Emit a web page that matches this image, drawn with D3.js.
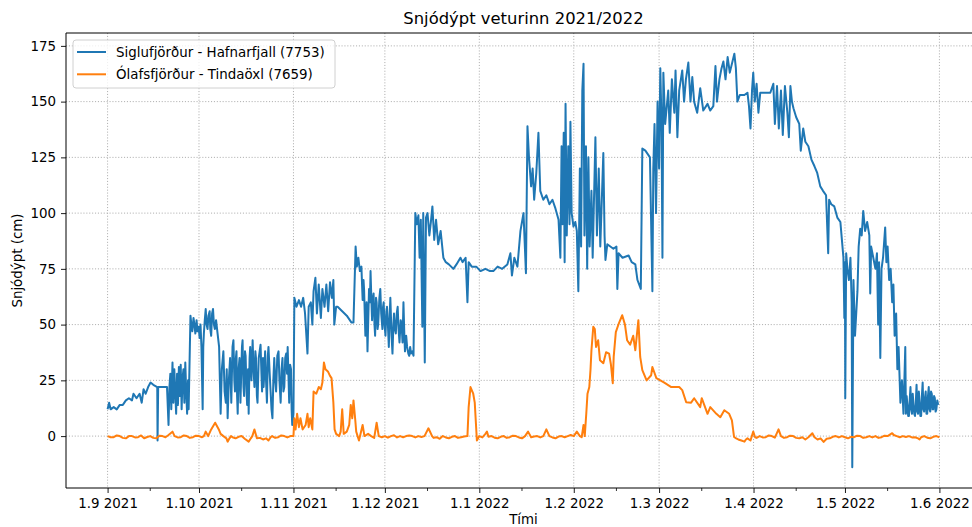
<!DOCTYPE html>
<html>
<head>
<meta charset="utf-8">
<script src="https://cdn.jsdelivr.net/npm/d3@7"></script>
<style>
body { margin: 0; background: #fff; }
text { font-family: "DejaVu Sans", sans-serif; fill: #000; }
</style>
</head>
<body>
<svg id="chart" width="972" height="527"></svg>
<script>
// data: [days since 1 Sep 2021, snow depth in cm]
let seasonStart = new Date(Date.UTC(2021, 8, 1));
let seasonEnd = new Date(Date.UTC(2022, 5, 1));
let chartTitle = "Snjódýpt veturinn 2021/2022";
let xLabel = "Tími";
let yLabel = "Snjódýpt (cm)";
let seriesNames = ["Siglufjörður - Hafnarfjall (7753)", "Ólafsfjörður - Tindaöxl (7659)"];
let yTicks = [0, 25, 50, 75, 100, 125, 150, 175];

let siglufjordur = [
  [0,12],[0.5,15],[1,12],[2,13],[3,12],[4,14],[5,14],[6,16],[7,17],[8,16],[8.5,19],[9.5,17],[10.5,19],
  [11.2,15],[11.8,21],[12.5,19],[13.3,22],[14.1,24],[15,23],[16.3,22],[16.4,-2],[16.6,22],[18,22],[19.5,22],
  [20,5],[20.3,22],[20.6,28],[20.9,12],[21.3,33],[21.6,15],[21.9,30],[22.2,20],[22.5,10],[22.8,28],[23.1,14],
  [23.4,31],[23.7,18],[24,32],[24.3,12],[24.6,26],[24.9,30],[25.2,15],[25.5,33],[25.8,20],[26.1,10],[26.4,25],
  [26.6,12],[27.2,54],[27.5,50],[27.8,47],[28.2,53],[28.5,50],[28.8,46],[29.2,52],[29.5,47],[29.9,49],
  [30.2,44],[30.5,50],[30.8,40],[31.2,12],[31.4,40],[31.6,46],[31.9,52],[32.2,57],[32.5,50],[32.8,48],
  [33.1,54],[33.5,56],[33.7,48],[34,45],[34.3,55],[34.6,57],[34.9,50],[35.2,48],[35.6,52],[36.1,46],
  [36.6,40],[37.1,10],[37.5,30],[38,38],[38.4,20],[38.8,15],[39.1,30],[39.4,8],[39.8,25],[40.2,35],[40.6,15],
  [41,40],[41.3,43],[41.6,25],[41.8,20],[42.1,35],[42.3,38],[42.5,18],[42.7,10],[43,30],[43.3,35],[43.6,15],
  [43.8,25],[44.1,40],[44.3,43],[44.6,22],[44.8,18],[45.1,38],[45.3,36],[45.6,20],[45.8,14],[46.1,30],
  [46.3,10],[46.6,35],[46.8,40],[47.2,25],[47.6,43],[47.9,30],[48.2,22],[48.5,38],[48.7,35],[49,18],
  [49.2,15],[49.6,35],[50.2,41],[50.5,28],[50.7,20],[51,35],[51.2,22],[51.5,30],[51.7,38],[52,25],[52.3,15],
  [52.6,36],[52.8,40],[53.2,28],[53.5,20],[53.8,12],[54.1,8],[54.4,25],[54.7,35],[55,25],[55.3,20],
  [55.7,36],[56.1,38],[56.4,25],[56.8,15],[57.1,30],[57.4,35],[57.7,20],[58,22],[58.3,35],[58.6,37],
  [58.9,28],[59.1,40],[59.4,25],[59.6,15],[59.9,32],[60.2,30],[60.4,12],[60.6,5],[61,10],[61.3,62],[62,58],
  [62.8,61],[63.5,58],[64.2,62],[64.8,55],[65.6,37],[66,58],[66.7,60],[67.2,50],[67.6,65],[68.2,71],
  [68.7,55],[69.3,68],[70,53],[70.5,66],[71.2,58],[71.8,68],[72.4,56],[73,69],[73.6,62],[74.1,70],[74.4,50],
  [75,58],[75.5,58],[77,56],[78.5,54],[80,51],[80.7,51],[81.4,85],[81.8,76],[82.3,80],[82.8,74],[83.3,76],
  [83.7,61],[84,70],[84.2,65],[84.4,55],[84.6,45],[85,60],[85.3,38],[85.6,55],[85.8,66],[86.1,60],[86.3,74],
  [86.6,60],[86.8,52],[87.1,62],[87.3,64],[87.6,50],[87.8,45],[88.1,62],[88.3,60],[88.6,48],[88.8,50],
  [89.2,62],[89.5,66],[89.8,55],[90.2,48],[90.4,58],[90.6,60],[90.9,50],[91.2,45],[91.5,56],[91.7,58],
  [92,50],[92.3,40],[92.6,55],[92.8,62],[93.2,45],[93.5,37],[93.8,50],[94,55],[94.3,48],[94.6,46],[94.9,55],
  [95.2,58],[95.5,48],[95.8,42],[96.2,52],[96.5,50],[96.8,42],[97.1,60],[97.4,45],[97.6,38],[98,45],
  [98.3,40],[98.7,37],[99,36],[99.3,40],[99.6,37],[100,38],[100.4,36],
  [101,100],[101.5,95],[102,99],[102.4,80],[102.8,97],[103.3,49],[103.6,100],[104.1,33],[104.5,98],[105,100],
  [105.6,90],[106.1,96],[106.6,103],[107.2,88],[107.8,97],[108.5,86],[109.3,92],[110.2,80],[111,78],[112,77],
  [113.5,75],[114.5,77],[115.8,80],[116.5,78],[117.5,80],[118.1,60],[118.5,78],[119.5,76],[121,76],
  [122.4,74],[124,75],[125.5,74],[126.6,74],[128,76],[129.5,75],[131.2,77],
  [132.2,82],[132.7,72],[133.5,80],[134.5,76],[135.5,92],[136.5,100],[137.3,73],[137.8,139],[138.3,125],
  [139,112],[139.5,120],[140,106],[140.7,118],[141.4,136],[142,110],[143,106],[144,108],[145,104],[146,106],
  [147,102],[148,97],[148.6,80],[149,130],[149.3,95],[149.7,136],[150,78],[150.3,149],[150.7,90],[151.2,130],
  [151.6,95],[151.9,141],[152.3,100],[152.9,94],[153.5,96],[154,92],[154.5,65],[155,120],[155.4,85],
  [155.8,155],[156.2,167],[156.5,90],[157,130],[157.4,75],[157.8,125],[158.2,85],[158.8,110],[159.2,80],
  [160.1,134],[160.6,90],[161.2,120],[161.7,85],[162.7,127],[163.1,90],[163.4,79],[164,86],[165,85],
  [166,84],[167,85],[167.3,66],[167.7,82],[169,80],[171,81],[172,78],[173.2,77],[173.9,70],[175,66],
  [175.5,129],[176.5,128],[177.5,126],[178,125],[178.8,65],[179.1,120],[179.5,140],[180,100],[180.5,150],
  [181,120],[181.4,165],[181.8,140],[182.1,80],[182.4,163],[183,140],[184,155],[184.5,136],[185.2,160],
  [186,145],[186.4,164],[187,134],[187.6,155],[188.6,164],[189.2,150],[189.8,160],[190.6,167.5],[191.3,150],
  [191.9,161],[192.5,150],[193.5,145],[194.5,156],[195.5,146],[196.9,149],[197.8,146],[198.8,148],
  [199.5,166],[200,150],[200.8,160],[201.5,165],[202.1,168],[202.8,160],[203.5,170],[204.2,163],
  [205.7,171.5],[206.2,165],[206.7,150],[207.5,153],[209,153],[210,154],[210.5,148],[211,138],[211.5,155],
  [211.9,163],[212.4,150],[213,158],[213.6,145],[214.2,154],[216,154],[217.5,154],[218.5,158],[219,140],
  [219.7,157],[220.3,138],[221,155],[221.6,135],[222.3,157],[223.1,145],[223.6,134],[224.1,157],[224.6,150],
  [225.1,147],[226,143],[227,140],[227.5,128],[228.3,138],[229,132],[230,130],[231,124],[232,121],
  [232.9,118],[233.9,112],[234.8,110],[235.8,108],[236.5,82],[236.8,106],[237.5,104],[238.5,103],
  [239.5,98],[240.5,96],[241,88],[241.5,80],[241.8,53],[242,78],[242.1,17],[242.4,82],[242.8,75],
  [243.3,70],[243.8,80],[244.2,60],[244.4,-14],[244.8,70],[245.3,45],[246.1,65],[246.5,85],[247,93],
  [247.5,90],[248,101],[248.6,92],[249.3,96],[250,90],[250.3,64],[250.6,85],[251.3,80],[252,75],
  [252.5,82],[252.9,50],[253.2,78],[253.6,35],[254,75],[254.5,80],[255.2,93.6],[255.6,78],[256,85],
  [256.5,70],[257,75],[257.5,60],[257.9,68],[258.3,45],[258.8,55],[259.2,30],[259.6,40],[260.2,15],
  [260.7,25],[261.2,10],[261.8,40],[262,10],[262.25,18],[262.5,14],[262.75,9],[263,9],[263.25,16],
  [263.5,22],[263.75,12],[264,10],[264.25,19],[264.5,14],[264.75,10],[265,9],[265.25,15],[265.5,23],
  [265.75,11],[266,10],[266.25,20],[266.5,15],[266.75,9],[267,9],[267.25,18],[267.5,24],[267.75,12],
  [268,11],[268.25,17],[268.5,20],[268.75,10],[269,10],[269.25,18],[269.5,22],[269.75,12],[270,11],
  [270.25,20],[270.5,19],[270.75,12],[271,12],[271.25,18],[271.5,17],[271.75,11],[272,12],[272.3,16],
  [272.6,14]
];

let olafsfjordur = [
  [0,0],[1,-0.5],[2,-0.5],[3,0.3],[4,0],[5,-0.8],[6,-1],[7,0],[8,0],[9,-0.6],[10,-0.5],[11,0.3],[12,-1],
  [13,-0.4],[14,0],[15,-0.8],[16,-1],[17,0.2],[18,0],[19,-0.5],[20,0.5],[21.3,2],[22,0],[23,-0.6],[24,-0.5],
  [25,0.3],[26,0],[27,-0.8],[28,-0.5],[29,0.2],[30,0],[31,-0.5],[31.6,0],[32.2,2],[33,0],[34,3],[35.3,6],
  [36.5,3],[37.1,1],[38,0],[39,-1],[39.4,-2.5],[40,-1],[40.5,0],[41,-0.5],[42,-1],[43,-0.3],[44,0],
  [45,-1.2],[46.3,-2.5],[47,-1],[47.5,0],[48.2,3],[49,-1],[50,-0.8],[51,-1.5],[52,-1],[52.8,-2],[53.5,-0.5],
  [54,0],[55,-0.8],[56,-0.5],[57,0.3],[58,0],[59,-0.6],[60,0],[61,0],
  [61.3,8],[61.7,3],[62.2,10],[62.8,4],[63.3,8],[64,3],[65,5],[65.6,10],
  [66,4],[66.5,8],[67.2,3],[67.6,20],[68.5,19],[69.3,22],[70,21],[70.5,24],[71,33],[71.5,30],[72.3,29],
  [73,27],[73.5,26],[74.1,15],[74.5,3],[75,1],[76,0],[76.5,2],[77,12],[77.5,1],[78.5,2],[79.3,5],
  [79.8,14],[80.3,8],[80.7,16],[81.3,7],[81.6,2],[82.5,-2],[83.7,5],[84.3,0],[85.5,1],[86.5,0],[87.5,-0.8],
  [88.3,6],[89,0],[90,-0.5],[91,0],[92,-0.7],[93,0],[94,0.4],[95,-0.6],[96,0],[97,-0.5],[98,0],[99,0.3],
  [100,0],[101,-0.6],[102,0],[103,-0.4],[104,0],[105.3,3.5],[106.5,0],[107,-0.8],[108,-0.5],[109,-1.2],
  [110,0],[111,-0.6],[112,-1],[113,-0.3],[114,0],[115,-0.8],[116,-0.5],[117,-0.2],[118.1,0],
  [118.5,13],[119.1,22],[120,19],[120.5,15],[121.2,-2],[122,0],[123,-0.6],[124,1],[124.5,2],[125,-0.3],
  [126,0],[127,-0.7],[128,-1],[129,-0.3],[130,0],[131,-0.8],[132,-0.5],[133,0.2],[134,0],[135,-0.6],
  [136,-1],[137,0],[138,2],[139,-0.5],[140,-0.2],[141,0],[142,-0.6],[143,0],[144,3],[145,0],[146,-0.6],
  [147,-1],[148,-0.2],[149,0],[150,-0.5],[151,0],[152,0.5],[153,0],[154,2],[155,0],[155.6,-0.5],[156.2,5],
  [156.6,0],[157.1,10],[157.5,19],[158.1,22],[158.5,30],[158.8,38.5],[159.4,49],[159.9,48],[160.3,40],[161,43],
  [161.6,34],[162.7,32.7],[163.6,37.6],[164.6,37],[165.2,32],[165.8,23.7],[166.1,35.5],[166.8,46.6],
  [167.8,50.6],[168.9,54.2],[169.8,50],[170.5,43],[171.5,41],[172.5,45],[173.2,38.5],[174.2,52],
  [174.8,35.5],[175.5,29.6],[176.9,25],[178.4,27.3],[178.8,31],[180.1,26],[182.7,24],[185,22],[187.6,22],
  [188.6,20.6],[189.9,15.2],[191.5,15],[192.5,17],[194.5,13],[195,17],[196.9,10],[197.8,13],[199.8,10],
  [201.1,8.5],[202.4,11.6],[204,10],[204.9,7],[205.6,-0.4],[206.3,-1],[207,-1.5],[208,-2],[209,-2.5],
  [209.5,-1.5],[210,-1],[211,-2],[211.9,2],[212.5,-0.5],[213,-0.8],[214,0],[215,-0.6],[216,-0.5],[217,0.3],
  [218,0],[219,-0.7],[220.2,3],[221,0],[222,-0.8],[223,-0.5],[224,0.2],[225,0],[226,-0.8],[227,-1],
  [228,-0.5],[229,-1.5],[230,-0.5],[231.3,1.3],[232,-0.5],[233,-1.5],[234,-1],[235,-2.6],[236,-1.2],
  [237,-1],[238,-0.3],[239,0],[240,-0.6],[241,0],[242,-0.5],[243,-1],[244,-0.3],[245,-0.5],[246,0.2],
  [247,0],[248,-0.8],[249,-0.5],[250,0],[251,-0.6],[252,0],[253,-0.8],[254,-0.5],[255,0.2],[256,0],
  [257.5,1.3],[258,0.5],[259,0],[260,-0.5],[261,0],[262,-0.4],[263,0],[264,-0.6],[265,-0.5],[266,-1],
  [266.5,-1.5],[267,-0.5],[268,0],[269,-0.7],[270,-1],[271,-0.3],[272,0],[273,-0.5]
];

// colors
let colorBlue = "#1f77b4";
let colorOrange = "#ff7f0e";

let width = 972, height = 527;
let margin = {top: 33, right: -9, bottom: 39, left: 66};

let svg = d3.select("#chart");

let toDate = d => new Date(seasonStart.getTime() + d * 864e5);
let series = [siglufjordur, olafsfjordur].map(s => s.map(p => ({date: toDate(p[0]), value: p[1]})));

// matplotlib style 5% margins
let allDates = series.flat().map(d => d.date);
let allVals = series.flat().map(d => d.value);
let [t0, t1] = d3.extent(allDates);
let padT = (t1 - t0) * 0.05;
let [v0, v1] = d3.extent(allVals);
let padV = (v1 - v0) * 0.05;

let x = d3.scaleUtc()
  .domain([new Date(+t0 - padT), new Date(+t1 + padT)])
  .range([margin.left, width - margin.right]);
let y = d3.scaleLinear()
  .domain([v0 - padV, v1 + padV])
  .range([height - margin.bottom, margin.top]);

let plotBottom = height - margin.bottom;
let plotRight = width - margin.right;

// grid
let grid = svg.append("g")
  .attr("stroke", "#b0b0b0")
  .attr("stroke-width", 1)
  .attr("stroke-dasharray", "1.1,1.8");
let monthTicks = d3.utcMonth.range(seasonStart, d3.utcDay.offset(seasonEnd, 1));
grid.selectAll(".vg").data(monthTicks).enter().append("line")
  .attr("x1", d => x(d)).attr("x2", d => x(d))
  .attr("y1", margin.top).attr("y2", plotBottom);
grid.selectAll(".hg").data(yTicks).enter().append("line")
  .attr("x1", margin.left).attr("x2", plotRight)
  .attr("y1", d => y(d)).attr("y2", d => y(d));

// lines
let line = d3.line().x(d => x(d.date)).y(d => y(d.value));
let colors = [colorBlue, colorOrange];
svg.append("clipPath").attr("id", "clip").append("rect")
  .attr("x", margin.left).attr("y", margin.top)
  .attr("width", plotRight - margin.left).attr("height", plotBottom - margin.top);
svg.append("g").attr("clip-path", "url(#clip)")
  .selectAll("path").data(series).enter().append("path")
  .attr("d", line)
  .attr("fill", "none")
  .attr("stroke", (d, i) => colors[i])
  .attr("stroke-width", 2)
  .attr("stroke-linejoin", "round");

// axes
let fmt = d => d.getUTCDate() + "." + (d.getUTCMonth() + 1) + " " + d.getUTCFullYear();
let xAxis = d3.axisBottom(x).tickValues(monthTicks).tickFormat(fmt).tickSize(5).tickPadding(5);
let gx = svg.append("g").attr("transform", "translate(0," + plotBottom + ")").call(xAxis);
let minorTicks = monthTicks.map(d => d3.utcDay.offset(d, 14)).filter(d => d < x.domain()[1]);
gx.selectAll(".minor").data(minorTicks).enter().append("line")
  .attr("x1", d => x(d)).attr("x2", d => x(d))
  .attr("y1", 0).attr("y2", 3)
  .attr("stroke", "#000").attr("stroke-width", 0.8);

let yAxis = d3.axisLeft(y).tickValues(yTicks).tickSize(5).tickPadding(5);
let gy = svg.append("g").attr("transform", "translate(" + margin.left + ",0)").call(yAxis);

[gx, gy].forEach(g => {
  g.select(".domain").remove();
  g.selectAll(".tick line").attr("stroke", "#000").attr("stroke-width", 0.9);
  g.selectAll("text").style("font-size", "13.4px").attr("fill", "#000");
});
gx.selectAll(".tick text").attr("dy", "0.75em");

// spines
let spines = svg.append("g").attr("stroke", "#000").attr("stroke-width", 1);
spines.append("line").attr("x1", margin.left).attr("x2", margin.left).attr("y1", margin.top).attr("y2", plotBottom);
spines.append("line").attr("x1", margin.left).attr("x2", plotRight).attr("y1", plotBottom).attr("y2", plotBottom);
spines.append("line").attr("x1", margin.left).attr("x2", plotRight).attr("y1", margin.top).attr("y2", margin.top);

// titles
svg.append("text")
  .attr("x", (margin.left + plotRight) / 2).attr("y", 24)
  .attr("text-anchor", "middle").style("font-size", "16.4px")
  .text(chartTitle);
svg.append("text")
  .attr("x", (margin.left + plotRight) / 2).attr("y", 524)
  .attr("text-anchor", "middle").style("font-size", "13.4px")
  .text(xLabel);
svg.append("text")
  .attr("transform", "translate(22," + ((margin.top + plotBottom) / 2) + ") rotate(-90)")
  .attr("text-anchor", "middle").style("font-size", "13.4px")
  .text(yLabel);

// legend
let legend = svg.append("g").attr("transform", "translate(73,40)");
legend.append("rect")
  .attr("width", 262).attr("height", 48).attr("rx", 3)
  .attr("fill", "#fff").attr("fill-opacity", 0.8)
  .attr("stroke", "#d0d0d0");
seriesNames.forEach((name, i) => {
  let yy = 12 + i * 22.3;
  legend.append("line")
    .attr("x1", 4).attr("x2", 33).attr("y1", yy).attr("y2", yy)
    .attr("stroke", colors[i]).attr("stroke-width", 2);
  legend.append("text")
    .attr("x", 43).attr("y", yy).attr("dy", "0.35em")
    .style("font-size", "13.4px")
    .text(name);
});
</script>
</body>
</html>
